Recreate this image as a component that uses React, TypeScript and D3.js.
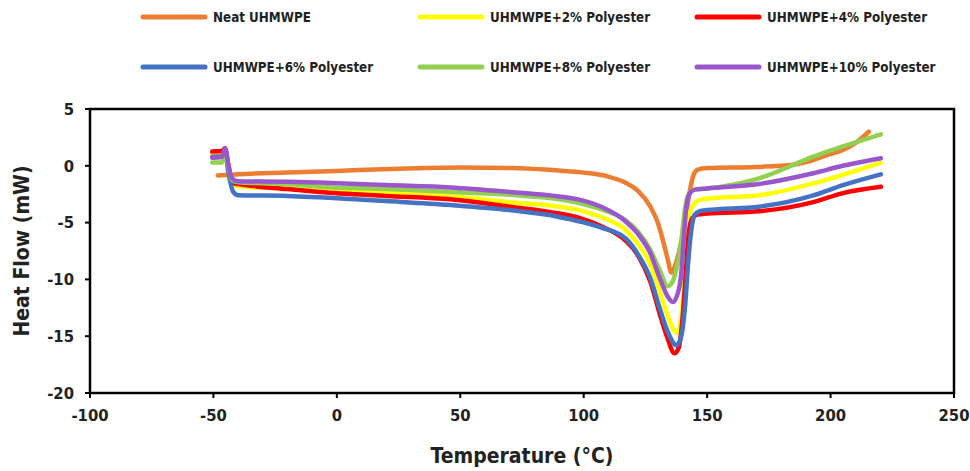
import React from "react";
import * as d3 from "d3";

const seriesNames = [
  "Neat UHMWPE",
  "UHMWPE+2% Polyester",
  "UHMWPE+4% Polyester",
  "UHMWPE+6% Polyester",
  "UHMWPE+8% Polyester",
  "UHMWPE+10% Polyester",
];
const seriesColors = ["#ED7D31", "#FFFF00", "#FF0000", "#4472C4", "#92D050", "#9A57CD"];

const xTicks = [-100, -50, 0, 50, 100, 150, 200, 250];
const yTicks = [5, 0, -5, -10, -15, -20];

// [temperature °C, heat flow mW]
const neat = [
  [-48.2, -0.85], [-45, -0.82], [-40, -0.75], [-20, -0.6], [0, -0.45], [25, -0.25], [50, -0.15],
  [70, -0.2], [90, -0.42], [100, -0.6], [110, -0.95], [117, -1.5], [122, -2.2], [127, -3.6],
  [130, -5.0], [132, -6.5], [134, -8.2], [135.5, -9.4], [137, -8.8], [139, -7.2], [141, -5.0],
  [143, -2.2], [144.5, -0.8], [146, -0.35], [150, -0.2], [170, -0.1], [185, 0.1], [193, 0.5],
  [198, 0.9], [205, 1.4], [210, 2.0], [215.5, 3.0],
];
const pe2 = [
  [-50.5, 0.9], [-46, 0.95], [-45, 1.3], [-44, 0], [-42.5, -1.5], [-40, -1.8], [-20, -2.0],
  [-7, -2.13], [20, -2.4], [46, -2.7], [70, -3.2], [90, -3.6], [98, -3.9], [108, -4.6],
  [117, -5.65], [122, -6.9], [127, -8.7], [131, -11.2], [134, -13.2], [136, -14.3], [137.6, -14.7],
  [139, -14.0], [140.5, -11], [141.5, -7.5], [142.5, -4.5], [144, -3.6], [147, -3.0], [150, -2.9],
  [171, -2.6], [193, -1.55], [205, -0.8], [220.4, 0.27],
];
const pe4 = [
  [-50.5, 1.25], [-46.5, 1.3], [-45.3, 1.55], [-44, 0], [-42.5, -1.5], [-40, -1.6], [-20, -2.05],
  [-7, -2.3], [20, -2.65], [46, -2.95], [70, -3.6], [90, -4.2], [98.5, -4.6], [108, -5.4],
  [117, -6.6], [122, -7.9], [127, -10.2], [131, -13.2], [134, -15.2], [136.7, -16.5], [138.5, -16.0],
  [140, -13.5], [141.5, -9], [142.5, -6], [144, -4.6], [146, -4.3], [150, -4.2], [171, -4.0],
  [193, -3.2], [205, -2.4], [220.4, -1.84],
];
const pe6 = [
  [-50.5, 0.8], [-46.5, 0.85], [-45.3, 1.2], [-44, -0.5], [-42, -2.3], [-40, -2.6], [-20, -2.65],
  [-7, -2.77], [20, -3.1], [46, -3.45], [70, -3.9], [90, -4.5], [98.5, -4.9], [108, -5.5],
  [117, -6.4], [122, -7.8], [127, -9.9], [131, -12.7], [134, -14.6], [137.6, -15.8], [139.5, -15.0],
  [141, -12.5], [142.5, -8], [143.7, -5.5], [145, -4.3], [147, -4.0], [150, -3.9], [171, -3.6],
  [193, -2.6], [205, -1.7], [220.4, -0.75],
];
const pe8 = [
  [-50.5, 0.3], [-46.5, 0.3], [-45.3, 1.1], [-44, 0], [-42.5, -1.25], [-40, -1.45], [-20, -1.6],
  [-7, -1.84], [20, -2.05], [46, -2.3], [70, -2.55], [90, -2.95], [98.5, -3.3], [108, -3.9],
  [117, -4.8], [122, -5.8], [127, -7.4], [131, -9.3], [134, -10.6], [136, -10.2], [138, -8.6],
  [139.6, -6.5], [141, -3.8], [142.5, -2.5], [145, -2.1], [150, -2.0], [171, -1.1], [193, 0.8],
  [205, 1.7], [220.4, 2.77],
];
const pe10 = [
  [-50.5, 0.7], [-46.5, 0.8], [-45.3, 1.55], [-44, 0.2], [-42.5, -1.1], [-40, -1.35], [-20, -1.4],
  [-7, -1.48], [20, -1.7], [46, -1.9], [70, -2.3], [90, -2.7], [98.5, -3.0], [108, -3.7],
  [117, -4.9], [122, -6.0], [127, -7.7], [131, -10], [134, -11.5], [136.1, -12.0], [138, -11.3],
  [139.5, -9.5], [140.5, -6.5], [141.5, -3.8], [143, -2.4], [145, -2.1], [150, -2.0], [171, -1.6],
  [193, -0.65], [205, 0.0], [220.4, 0.66],
];
const seriesData = [neat, pe2, pe4, pe6, pe8, pe10];

const font = "'DejaVu Sans Condensed', 'Liberation Sans', sans-serif";

const App = () => {
  const margin = { top: 109, right: 16, bottom: 78, left: 90 };
  const width = 970;
  const height = 471;

  const x = d3.scaleLinear().domain([-100, 250]).range([margin.left, width - margin.right]);
  const y = d3.scaleLinear().domain([-20, 5]).range([height - margin.bottom, margin.top]);

  const line = d3
    .line<number[]>()
    .x((d) => x(d[0]))
    .y((d) => y(d[1]))
    .curve(d3.curveMonotoneX);

  const legendCols = [143, 420, 697];
  const legendRows = [17, 67];

  return (
    <svg width={width} height={height} style={{ position: "absolute", left: 0, top: 0, background: "#fff" }}>
      {/* plot frame */}
      <rect
        x={x(-100)}
        y={y(5)}
        width={x(250) - x(-100)}
        height={y(-20) - y(5)}
        fill="none"
        stroke="#000"
        strokeWidth={2.5}
      />
      {xTicks.map((t) => (
        <g key={"x" + t}>
          <line x1={x(t)} x2={x(t)} y1={y(-20)} y2={y(-20) + 5} stroke="#000" strokeWidth={2} />
          <text
            x={x(t)}
            y={y(-20) + 28}
            textAnchor="middle"
            fontFamily={font}
            fontWeight="bold"
            fontSize={16.5}
            fill="#222"
          >
            {t}
          </text>
        </g>
      ))}
      {yTicks.map((t) => (
        <g key={"y" + t}>
          <line x1={x(-100) - 5} x2={x(-100)} y1={y(t)} y2={y(t)} stroke="#000" strokeWidth={2} />
          <text
            x={x(-100) - 16}
            y={y(t)}
            dy="0.35em"
            textAnchor="end"
            fontFamily={font}
            fontWeight="bold"
            fontSize={16.5}
            fill="#222"
          >
            {t}
          </text>
        </g>
      ))}
      <text
        x={(x(-100) + x(250)) / 2}
        y={463}
        textAnchor="middle"
        fontFamily={font}
        fontWeight="bold"
        fontSize={21}
        fill="#222"
      >
        Temperature (°C)
      </text>
      <text
        transform={`translate(29,${(y(5) + y(-20)) / 2}) rotate(-90)`}
        textAnchor="middle"
        fontFamily={font}
        fontWeight="bold"
        fontSize={21}
        fill="#222"
      >
        Heat Flow (mW)
      </text>

      {seriesData.map((d, i) => (
        <path
          key={seriesNames[i]}
          d={line(d) || ""}
          fill="none"
          stroke={seriesColors[i]}
          strokeWidth={4.5}
          strokeLinejoin="round"
          strokeLinecap="round"
        />
      ))}

      {seriesNames.map((name, i) => {
        const lx = legendCols[i % 3];
        const ly = legendRows[Math.floor(i / 3)];
        return (
          <g key={"leg" + name}>
            <line x1={lx} x2={lx + 62} y1={ly} y2={ly} stroke={seriesColors[i]} strokeWidth={5} strokeLinecap="round" />
            <text x={lx + 70} y={ly} dy="0.35em" fontFamily={font} fontWeight="bold" fontSize={13.3} fill="#222">
              {name}
            </text>
          </g>
        );
      })}
    </svg>
  );
};

export default App;
